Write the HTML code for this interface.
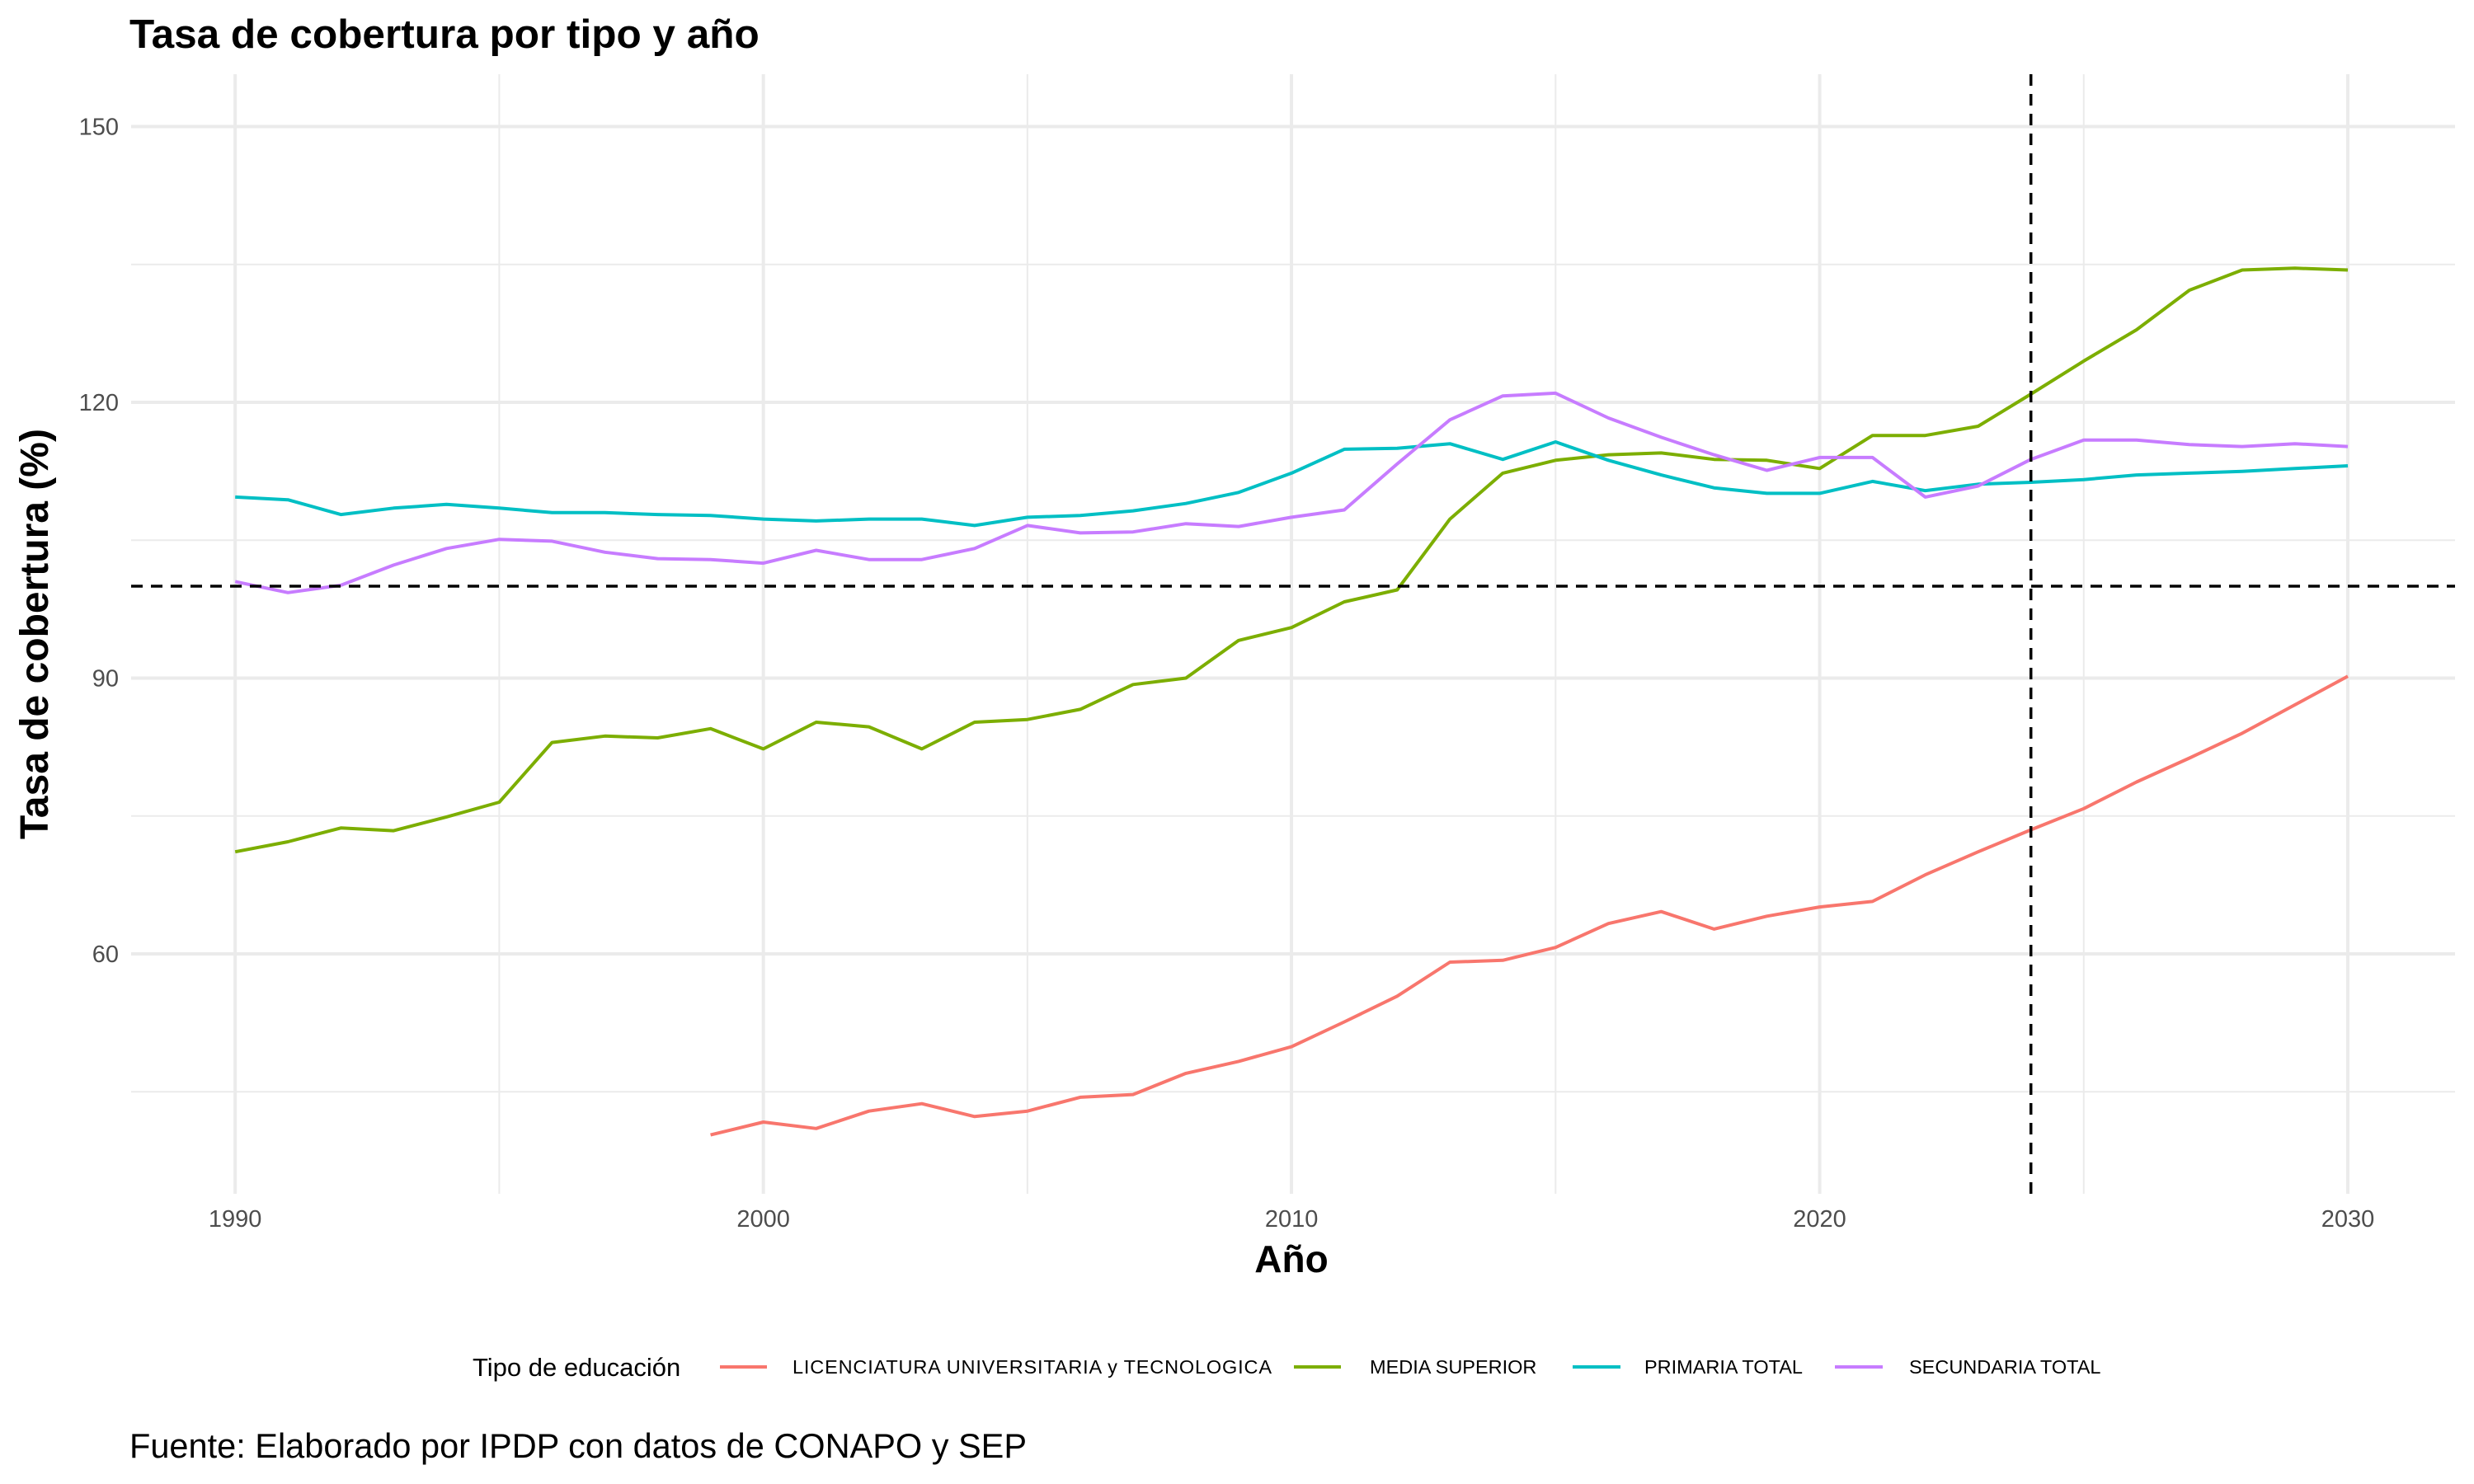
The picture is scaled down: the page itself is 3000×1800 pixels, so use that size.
<!DOCTYPE html>
<html><head><meta charset="utf-8"><style>
html,body{margin:0;padding:0;background:#fff;}
svg{display:block;font-family:"Liberation Sans",Arial,sans-serif;}
</style></head><body>
<svg id="chart" width="3000" height="1800" viewBox="0 0 3000 1800">
<rect width="3000" height="1800" fill="#fff"/>
<text x="157" y="58" font-size="49.5" font-weight="bold" fill="#000">Tasa de cobertura por tipo y año</text>
<g id="grid"></g>
<g id="refs"></g>
<g id="series"></g>
<g id="axes"></g>
<text x="1566" y="1543" font-size="46" font-weight="bold" text-anchor="middle">Año</text>
<text transform="translate(58,769) rotate(-90)" font-size="48" font-weight="bold" text-anchor="middle">Tasa de cobertura (%)</text>
<g>
<text x="573" y="1669" font-size="31">Tipo de educación</text>
<g><line x1="873" y1="1658" x2="930" y2="1658" stroke="#F8766D" stroke-width="4"/><text x="961" y="1666" font-size="23.5" textLength="581">LICENCIATURA UNIVERSITARIA y TECNOLOGICA</text></g>
<g><line x1="1569" y1="1658" x2="1626" y2="1658" stroke="#7CAE00" stroke-width="4"/><text x="1661" y="1666" font-size="23.5">MEDIA SUPERIOR</text></g>
<g><line x1="1907" y1="1658" x2="1965" y2="1658" stroke="#00BFC4" stroke-width="4"/><text x="1994" y="1666" font-size="23.5">PRIMARIA TOTAL</text></g>
<g><line x1="2225" y1="1658" x2="2283" y2="1658" stroke="#C77CFF" stroke-width="4"/><text x="2315" y="1666" font-size="23.5">SECUNDARIA TOTAL</text></g>
</g>
<text x="157" y="1768" font-size="41.5">Fuente: Elaborado por IPDP con datos de CONAPO y SEP</text>
</svg>
<script>
const yearsFull = [1990,1991,1992,1993,1994,1995,1996,1997,1998,1999,2000,2001,2002,2003,2004,2005,2006,2007,2008,2009,2010,2011,2012,2013,2014,2015,2016,2017,2018,2019,2020,2021,2022,2023,2024,2025,2026,2027,2028,2029,2030];
const yearsLic = [1999,2000,2001,2002,2003,2004,2005,2006,2007,2008,2009,2010,2011,2012,2013,2014,2015,2016,2017,2018,2019,2020,2021,2022,2023,2024,2025,2026,2027,2028,2029,2030];
const licenciatura = [40.3,41.7,41.0,42.9,43.7,42.3,42.9,44.4,44.7,47.0,48.3,49.9,52.6,55.4,59.1,59.3,60.7,63.3,64.6,62.7,64.1,65.1,65.7,68.6,71.1,73.5,75.8,78.7,81.3,84.0,87.1,90.2];
const mediaSuperior = [71.1,72.2,73.7,73.4,74.9,76.5,83.0,83.7,83.5,84.5,82.3,85.2,84.7,82.3,85.2,85.5,86.6,89.3,90.0,94.1,95.5,98.3,99.6,107.3,112.3,113.7,114.3,114.5,113.8,113.7,112.8,116.4,116.4,117.4,120.9,124.5,127.9,132.2,134.4,134.6,134.4];
const primaria = [109.7,109.4,107.8,108.5,108.9,108.5,108.0,108.0,107.8,107.7,107.3,107.1,107.3,107.3,106.6,107.5,107.7,108.2,109.0,110.2,112.3,114.9,115.0,115.5,113.8,115.7,113.7,112.1,110.7,110.1,110.1,111.4,110.4,111.1,111.3,111.6,112.1,112.3,112.5,112.8,113.1];
const secundaria = [100.5,99.3,100.1,102.3,104.1,105.1,104.9,103.7,103.0,102.9,102.5,103.9,102.9,102.9,104.1,106.6,105.8,105.9,106.8,106.5,107.5,108.3,113.3,118.1,120.7,121.0,118.3,116.2,114.3,112.6,114.0,114.0,109.7,110.9,113.8,115.9,115.9,115.4,115.2,115.5,115.2];
const yTicks = [60,90,120,150];
const yMinor = [45,75,105,135];
const xTicks = [1990,2000,2010,2020,2030];
const xMinor = [1995,2005,2015,2025];
const refY = 100, refX = 2024;

const L=159,R=2977,T=90,B=1448;
const X0=1988.03,X1=2032.03,Y0=33.9,Y1=155.7;
const xs=v=>L+(v-X0)/(X1-X0)*(R-L);
const ys=v=>B-(v-Y0)/(Y1-Y0)*(B-T);
const NS="http://www.w3.org/2000/svg";
function mk(tag,attrs,parent){const e=document.createElementNS(NS,tag);for(const k in attrs)e.setAttribute(k,attrs[k]);parent.appendChild(e);return e;}
const grid=document.getElementById('grid'),axes=document.getElementById('axes'),refs=document.getElementById('refs'),series=document.getElementById('series');
yMinor.forEach(v=>{const e=mk('line',{x1:L,x2:R,y1:ys(v),y2:ys(v),stroke:'#ebebeb','stroke-width':2},grid);

});
xMinor.forEach(v=>{const e=mk('line',{x1:xs(v),x2:xs(v),y1:T,y2:B,stroke:'#ebebeb','stroke-width':2},grid);

});
yTicks.forEach(v=>{const e=mk('line',{x1:L,x2:R,y1:ys(v),y2:ys(v),stroke:'#ebebeb','stroke-width':4},grid);


const t=mk('text',{x:144,y:ys(v)+10,'font-size':29,fill:'#4d4d4d','text-anchor':'end'},axes);t.textContent=v;

});
xTicks.forEach(v=>{const e=mk('line',{x1:xs(v),x2:xs(v),y1:T,y2:B,stroke:'#ebebeb','stroke-width':4},grid);


const t=mk('text',{x:xs(v),y:1488,'font-size':29,fill:'#4d4d4d','text-anchor':'middle'},axes);t.textContent=v;

});
function line(xsArr,vals,color,name){
 const d=vals.map((v,i)=>(i?'L':'M')+xs(xsArr[i]).toFixed(1)+','+ys(v).toFixed(1)).join('');
 const p=mk('path',{d:d,fill:'none',stroke:color,'stroke-width':4,'stroke-linejoin':'round'},series);
 
 
}
line(yearsLic,licenciatura,'#F8766D','line-licenciatura');
line(yearsFull,mediaSuperior,'#7CAE00','line-media-superior');
line(yearsFull,primaria,'#00BFC4','line-primaria');
line(yearsFull,secundaria,'#C77CFF','line-secundaria');
const h=mk('line',{x1:L,x2:R,y1:ys(refY),y2:ys(refY),stroke:'#000','stroke-width':3.5,'stroke-dasharray':'14,10'},series);


const vl=mk('line',{x1:xs(refX),x2:xs(refX),y1:T,y2:B,stroke:'#000','stroke-width':3.5,'stroke-dasharray':'14,10'},series);


</script>
</body></html>
